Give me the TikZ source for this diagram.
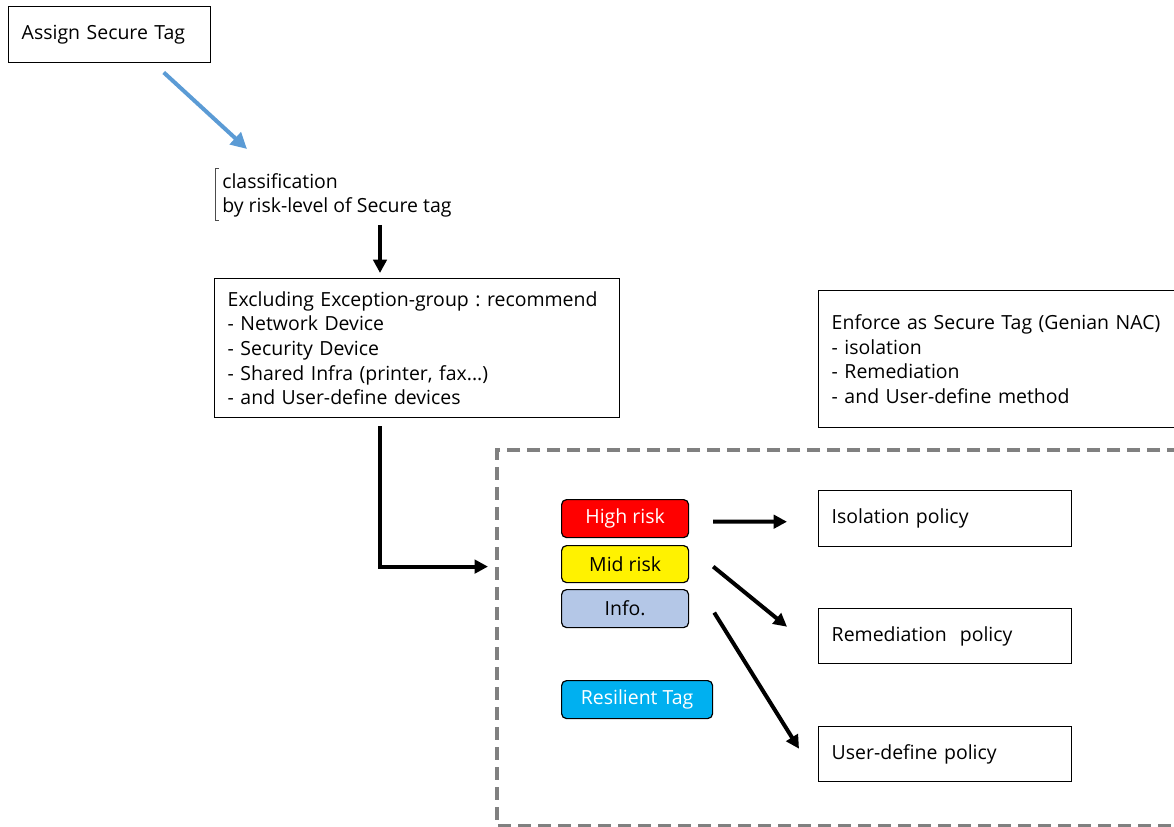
\documentclass[tikz,border=0pt]{standalone}
\usepackage{fontspec}
\setmainfont{Open Sans}
\usetikzlibrary{arrows.meta,calc}
\frenchspacing
\newlength\px
\setlength\px{0.75pt}
\newcommand\dgfont{\fontsize{14.6}{18.4}\selectfont}
\definecolor{infoblue}{RGB}{180,199,231}
\definecolor{tagblue}{RGB}{0,176,240}
\definecolor{arrowblue}{RGB}{91,155,213}
\definecolor{dashgray}{RGB}{128,128,128}
\tikzset{
  lbox/.style 2 args={draw, line width=1.1pt, anchor=north west, inner xsep=13\px, inner ysep=0pt,
    text width=#1\px, minimum height=#2\px, align=left, font=\dgfont},
  rbox/.style={draw, line width=0.9pt, rounded corners=5\px, anchor=north west, inner sep=0pt,
    minimum width=#1\px, minimum height=38\px, font=\dgfont},
  blk/.style={line width=3pt, -{Triangle[length=10pt,width=10pt]}},
}
\begin{document}
\begin{tikzpicture}[x=0.75pt,y=-0.75pt]
\useasboundingbox (0,0) rectangle (1174,827);
% dashed region
\draw[dashgray, line width=3pt, dash pattern=on 9.5pt off 5.5pt] (1200,450) -- (497,450) -- (497,826) -- (1200,826);
\node (assign) at (8,6)[lbox={176}{56}] {Assign Secure Tag};
\node (cls) at (222,173)[anchor=north west, inner sep=0pt, align=left, font=\dgfont] {classification\\by risk-level of Secure tag};
\draw[line width=0.6pt, black!70] ($(cls.north west)+(-3,-5)$) -- ($(cls.north west)+(-7,-5)$) -- ($(cls.south west)+(-7,3)$) -- ($(cls.south west)+(-3,3)$);
\node (excl) at (214,278)[lbox={379}{139}] {Excluding Exception-group : recommend\\- Network Device\\- Security Device\\- Shared Infra (printer, fax...)\\- and User-define devices};
\node (enf) at (818,290)[lbox={360}{137}] {Enforce as Secure Tag (Genian NAC)\\- isolation\\- Remediation\\- and User-define method};
\node (high) at (561,499)[rbox=127, fill=red, text=white] {High risk};
\node (mid) at (561,545)[rbox=127, fill=yellow, minimum height=37\px] {Mid risk};
\node (info) at (561,589)[rbox=127, fill=infoblue] {Info.};
\node (resil) at (561,680)[rbox=151, fill=tagblue, text=white] {Resilient Tag};
\node (iso) at (818,490)[lbox={227}{56}] {Isolation policy};
\node (rem) at (818,608)[lbox={227}{55}] {Remediation~~policy};
\node (udef) at (818,726)[lbox={227}{55}] {User-define policy};
% connectors
\draw[line width=3pt, arrowblue, -{Triangle[length=12pt,width=12pt]}] ($(assign.south)+(54,9)$) -- ($(cls.north west)+(25,-24)$);
\draw[blk] ($(excl.north west)+(166,-53)$) -- ($(excl.north west)+(166,-5)$);
\draw[blk] ($(excl.south west)+(166,8)$) |- ($(mid.west)+(-73,2.5)$);
\draw[blk] ($(high.east)+(24,3)$) -- ($(iso.west)+(-31,3)$);
\draw[blk] ($(mid.east)+(24,2.5)$) -- ($(rem.west)+(-31,-9.5)$);
\draw[blk] ($(info.east)+(25,4)$) -- ($(udef.west)+(-19,-5.5)$);
\end{tikzpicture}
\end{document}
